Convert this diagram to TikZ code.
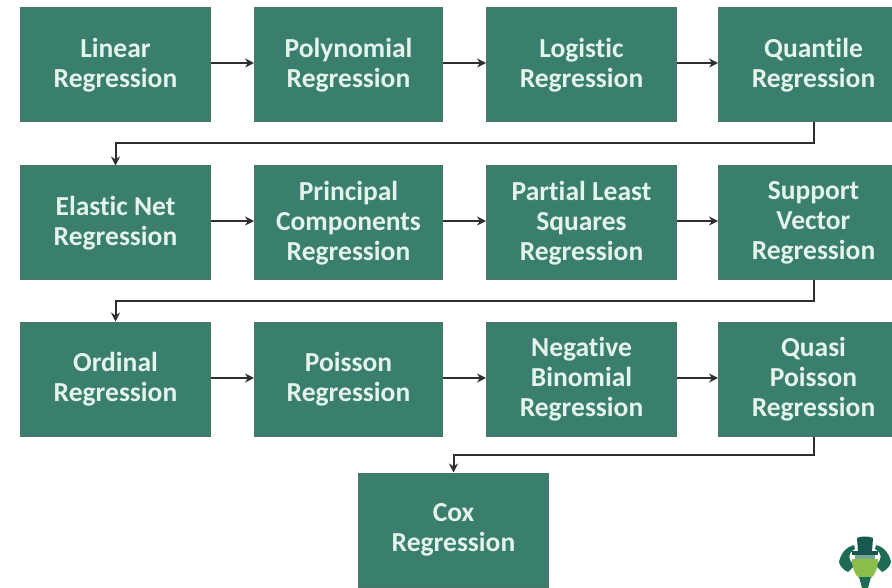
\documentclass[tikz,border=0pt]{standalone}
\usepackage{fontspec}
\setmainfont[Ligatures=NoCommon]{Carlito}
\usetikzlibrary{arrows.meta}
\definecolor{boxgreen}{HTML}{3A7F6D}
\definecolor{boxedge}{HTML}{4F7368}
\definecolor{boxtext}{HTML}{E4F3EC}
\definecolor{linkcol}{HTML}{2B302E}
\definecolor{logodark}{HTML}{1F6B55}
\definecolor{logohat}{HTML}{17584F}
\definecolor{logolime}{HTML}{8CBF4A}
\tikzset{
  regbox/.style={draw=boxedge,line width=1pt,fill=boxgreen,text=boxtext,inner sep=0pt,
    minimum width=190pt,minimum height=114pt,align=center,
    font=\fontsize{27.5}{30}\selectfont\bfseries},
  narrowbox/.style={regbox,minimum width=188pt},
  link/.style={draw=linkcol,line width=2pt,-{Stealth[length=9pt,width=9pt]}}
}
\begin{document}
\begin{tikzpicture}[x=1pt,y=-1pt]
\useasboundingbox (0,0) rectangle (892,588);
\clip (0,0) rectangle (892,588);
\node[regbox] (a1) at (115.5,65) {Linear\\Regression};
\node[narrowbox] (a2) at (348.5,65) {Polynomial\\Regression};
\node[regbox] (a3) at (581.5,65) {Logistic\\Regression};
\node[regbox] (a4) at (813.5,65) {Quantile\\Regression};
\node[regbox] (b1) at (115.5,223) {Elastic Net\\Regression};
\node[narrowbox] (b2) at (348.5,223) {Principal\\Components\\Regression};
\node[regbox] (b3) at (581.5,223) {Partial Least\\Squares\\Regression};
\node[regbox] (b4) at (813.5,223) {Support\\Vector\\Regression};
\node[regbox] (c1) at (115.5,379) {Ordinal\\Regression};
\node[narrowbox] (c2) at (348.5,379) {Poisson\\Regression};
\node[regbox] (c3) at (581.5,379) {Negative\\Binomial\\Regression};
\node[regbox] (c4) at (813.5,379) {Quasi\\Poisson\\Regression};
\node[regbox] (d1) at (453.5,530) {Cox\\Regression};
\foreach \p/\q in {a1/a2,a2/a3,a3/a4,b1/b2,b2/b3,b3/b4}
  \draw[link] ([yshift=2pt]\p.east) -- ([yshift=2pt]\q.west);
\foreach \p/\q in {c1/c2,c2/c3,c3/c4}
  \draw[link] ([yshift=1pt]\p.east) -- ([yshift=1pt]\q.west);
\coordinate (j1) at (0,143);
\coordinate (j2) at (0,301);
\coordinate (j3) at (0,455);
\draw[link] (a4.south) -- (a4.south |- j1) -- (b1.north |- j1) -- (b1.north);
\draw[link] (b4.south) -- (b4.south |- j2) -- (c1.north |- j2) -- (c1.north);
\draw[link] (c4.south) -- (c4.south |- j3) -- (d1.north |- j3) -- (d1.north);
% logo
\fill[logodark] (839,562) .. controls (841,552) and (848,546) .. (854,545) -- (855,549) .. controls (851,551) and (848,555) .. (850,560) -- (854,566) -- (848,572) .. controls (843,570) and (840,566) .. (839,562) -- cycle;
\fill[logodark] (891,562) .. controls (889,552) and (882,546) .. (876,545) -- (875,549) .. controls (879,551) and (882,555) .. (880,560) -- (876,566) -- (882,572) .. controls (887,570) and (890,566) .. (891,562) -- cycle;
\fill[logolime] (852,559) -- (878,559) .. controls (878,568) and (875,575) .. (871,578) -- (859,578) .. controls (855,575) and (852,568) .. (852,559) -- cycle;
\fill[logodark] (859,577) -- (871,577) -- (868,588) -- (862,588) -- cycle;
\fill[logohat] (857,538) .. controls (861,536) and (869,536) .. (873,538) -- (872,552) -- (858,552) -- cycle;
\fill[logohat] (852,551) rectangle (878,555);
\fill[logodark!60!white] (855,555) rectangle (875,559);
\end{tikzpicture}
\end{document}
